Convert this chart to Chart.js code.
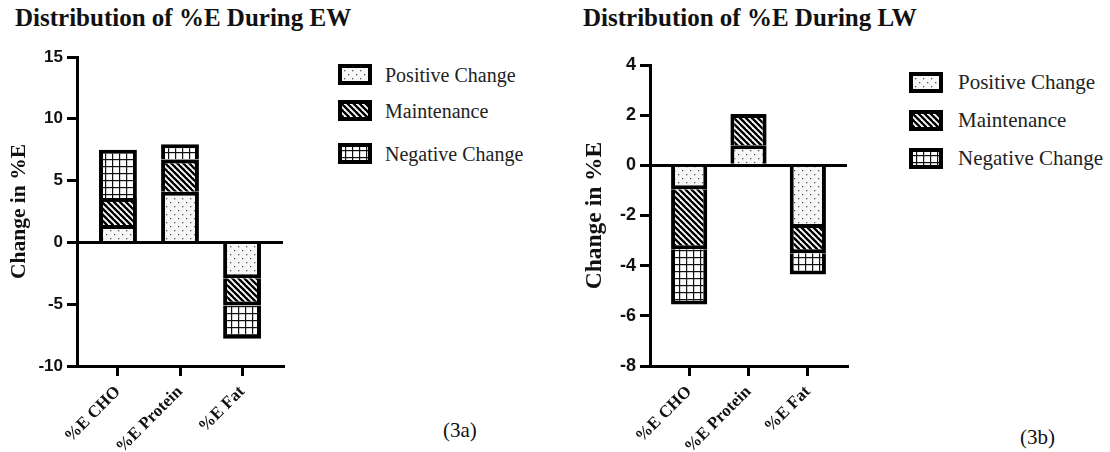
<!DOCTYPE html>
<html>
<head>
<meta charset="utf-8">
<script src="https://cdn.jsdelivr.net/npm/chart.js@4.4.1/dist/chart.umd.min.js"></script>
<style>
  body { margin: 0; background: #fff; }
  #page { position: relative; width: 1110px; height: 452px; overflow: hidden; font-family: 'Liberation Serif', serif; color: #111; }
  .ttl { position: absolute; top: 3px; font-weight: bold; font-size: 25px; line-height: 30px; white-space: nowrap; }
  .cap { position: absolute; font-size: 21px; line-height: 24px; }
  canvas.chart { position: absolute; }
</style>
</head>
<body>
<div id="page">
  <div class="ttl" style="left:15px">Distribution of %E During EW</div>
  <div class="ttl" style="left:583px">Distribution of %E During LW</div>

  <canvas id="chartEW" class="chart" width="300" height="412" style="left:0;top:40px"></canvas>
  <canvas id="chartLW" class="chart" width="310" height="412" style="left:560px;top:40px"></canvas>

  <div id="legendEW"></div>
  <div id="legendLW"></div>

  <div class="cap" style="left:443px;top:418px">(3a)</div>
  <div class="cap" style="left:1020px;top:425px">(3b)</div>
</div>

<script>
const categories = ['%E CHO', '%E Protein', '%E Fat'];
const seriesNames = ['Positive Change', 'Maintenance', 'Negative Change'];

// EW (3a)
const ewPositive = [1.4, 4.1, -2.9];
const ewMaintenance = [2.2, 2.6, -2.2];
const ewNegative = [3.9, 1.25, -2.7];
const ewTicks = { min: -10, max: 15, step: 5 };

// LW (3b)
const lwPositive = [-0.95, 0.8, -2.5];
const lwMaintenance = [-2.4, 1.25, -1.0];
const lwNegative = [-2.2, 0, -0.85];
const lwTicks = { min: -8, max: 4, step: 2 };

// --- patterns ---
function makeTile(w, h, draw) {
    const c = document.createElement('canvas');
    c.width = w; c.height = h;
    draw(c.getContext('2d'), w, h);
    return c;
}

const dotsTile = makeTile(8, 8, (g, w, h) => {
    g.fillStyle = '#f7f7f7';
    g.fillRect(0, 0, w, h);
    g.fillStyle = '#555';
    g.fillRect(2, 2, 1.3, 1.3);
    g.fillRect(6, 6, 1.3, 1.3);
});

const stripeTile = makeTile(6, 6, (g, w, h) => {
    g.fillStyle = '#fff';
    g.fillRect(0, 0, w, h);
    g.strokeStyle = '#000';
    g.lineWidth = 2.4;
    for (let k = -1; k <= 1; k++) {
        g.beginPath();
        g.moveTo(k * 6 - 1, -1);
        g.lineTo(k * 6 + 7, 7);
        g.stroke();
    }
});

const gridTile = makeTile(7, 7, (g, w, h) => {
    g.fillStyle = '#fff';
    g.fillRect(0, 0, w, h);
    g.fillStyle = '#111';
    g.fillRect(0, 0, 1.2, h);
    g.fillRect(0, 0, w, 1.2);
});

function patterns(ctx) {
    return [
        ctx.createPattern(dotsTile, 'repeat'),
        ctx.createPattern(stripeTile, 'repeat'),
        ctx.createPattern(gridTile, 'repeat')
    ];
}

// --- charts ---
function buildChart(id, seriesList, yt, opts) {
    const canvas = document.getElementById(id);
    const pats = patterns(canvas.getContext('2d'));

    return new Chart(canvas, {
        type: 'bar',
        data: {
            datasets: seriesList.map((vals, s) => ({
                label: seriesNames[s],
                data: categories.map((c, i) => ({ x: i, y: vals[i] })),
                backgroundColor: pats[s],
                borderColor: '#000',
                borderWidth: 4,
                borderSkipped: 'start',
                categoryPercentage: 1,
                barPercentage: 0.61
            }))
        },
        options: {
            responsive: false,
            animation: false,
            devicePixelRatio: 1,
            layout: { padding: { top: opts.padTop, right: opts.padRight, left: 0, bottom: 0 } },
            plugins: { legend: { display: false }, tooltip: { enabled: false } },
            scales: {
                x: {
                    type: 'linear',
                    stacked: true,
                    offset: false,
                    min: -0.66,
                    max: 2.66,
                    afterBuildTicks: s => { s.ticks = categories.map((c, i) => ({ value: i })); },
                    afterFit: s => { s.height = 86; },
                    border: { color: '#000', width: 3 },
                    grid: { offset: false, drawOnChartArea: false, drawTicks: true, tickLength: 10, tickColor: '#000', lineWidth: 3 },
                    ticks: {
                        autoSkip: false,
                        minRotation: 45,
                        maxRotation: 45,
                        padding: 6,
                        color: '#111',
                        font: { family: 'Liberation Serif', weight: 'bold', size: 17 },
                        callback: v => categories[v]
                    }
                },
                y: {
                    stacked: true,
                    min: yt.min,
                    max: yt.max,
                    z: 1,
                    afterFit: s => { s.width = opts.yWidth; },
                    border: { color: '#000', width: 3 },
                    grid: {
                        drawOnChartArea: true,
                        color: c => (c.tick && c.tick.value === 0 ? '#000' : 'rgba(0,0,0,0)'),
                        lineWidth: 3,
                        tickColor: '#000',
                        tickLength: 10
                    },
                    ticks: {
                        stepSize: yt.step,
                        padding: 4,
                        color: '#111',
                        font: { family: 'Liberation Sans', weight: 'bold', size: opts.tickSize }
                    },
                    title: {
                        display: true,
                        text: 'Change in %E',
                        color: '#111',
                        padding: { top: opts.titlePad, bottom: 0 },
                        font: { family: 'Liberation Serif', weight: 'bold', size: opts.titleSize }
                    }
                }
            }
        }
    });
}

buildChart('chartEW', [ewPositive, ewMaintenance, ewNegative], ewTicks,
    { padTop: 17, padRight: 17, yWidth: 77, titlePad: 7, titleSize: 21.5, tickSize: 17 });
buildChart('chartLW', [lwPositive, lwMaintenance, lwNegative], lwTicks,
    { padTop: 25, padRight: 23, yWidth: 90, titlePad: 21, titleSize: 23.5, tickSize: 18 });

// --- legends (html text, canvas swatches) ---
function buildLegend(id, left, textLeft, tops, fontSize) {
    const box = document.getElementById(id);
    seriesNames.forEach((name, i) => {
        const sw = document.createElement('canvas');
        sw.width = 34; sw.height = 21;
        sw.style.position = 'absolute';
        sw.style.left = left + 'px';
        sw.style.top = tops[i] + 'px';
        const g = sw.getContext('2d');
        g.fillStyle = patterns(g)[i];
        g.fillRect(0, 0, 34, 21);
        g.strokeStyle = '#000';
        g.lineWidth = 4;
        g.strokeRect(2, 2, 30, 17);
        box.appendChild(sw);

        const t = document.createElement('div');
        t.textContent = name;
        t.style.position = 'absolute';
        t.style.left = textLeft + 'px';
        t.style.top = (tops[i] + 10.5 - fontSize * 0.6) + 'px';
        t.style.fontSize = fontSize + 'px';
        t.style.lineHeight = (fontSize * 1.2) + 'px';
        t.style.whiteSpace = 'nowrap';
        t.style.color = '#222';
        box.appendChild(t);
    });
}

buildLegend('legendEW', 338, 385, [64, 100, 143], 20);
buildLegend('legendLW', 909, 958, [72, 110, 148], 21);
</script>
</body>
</html>
